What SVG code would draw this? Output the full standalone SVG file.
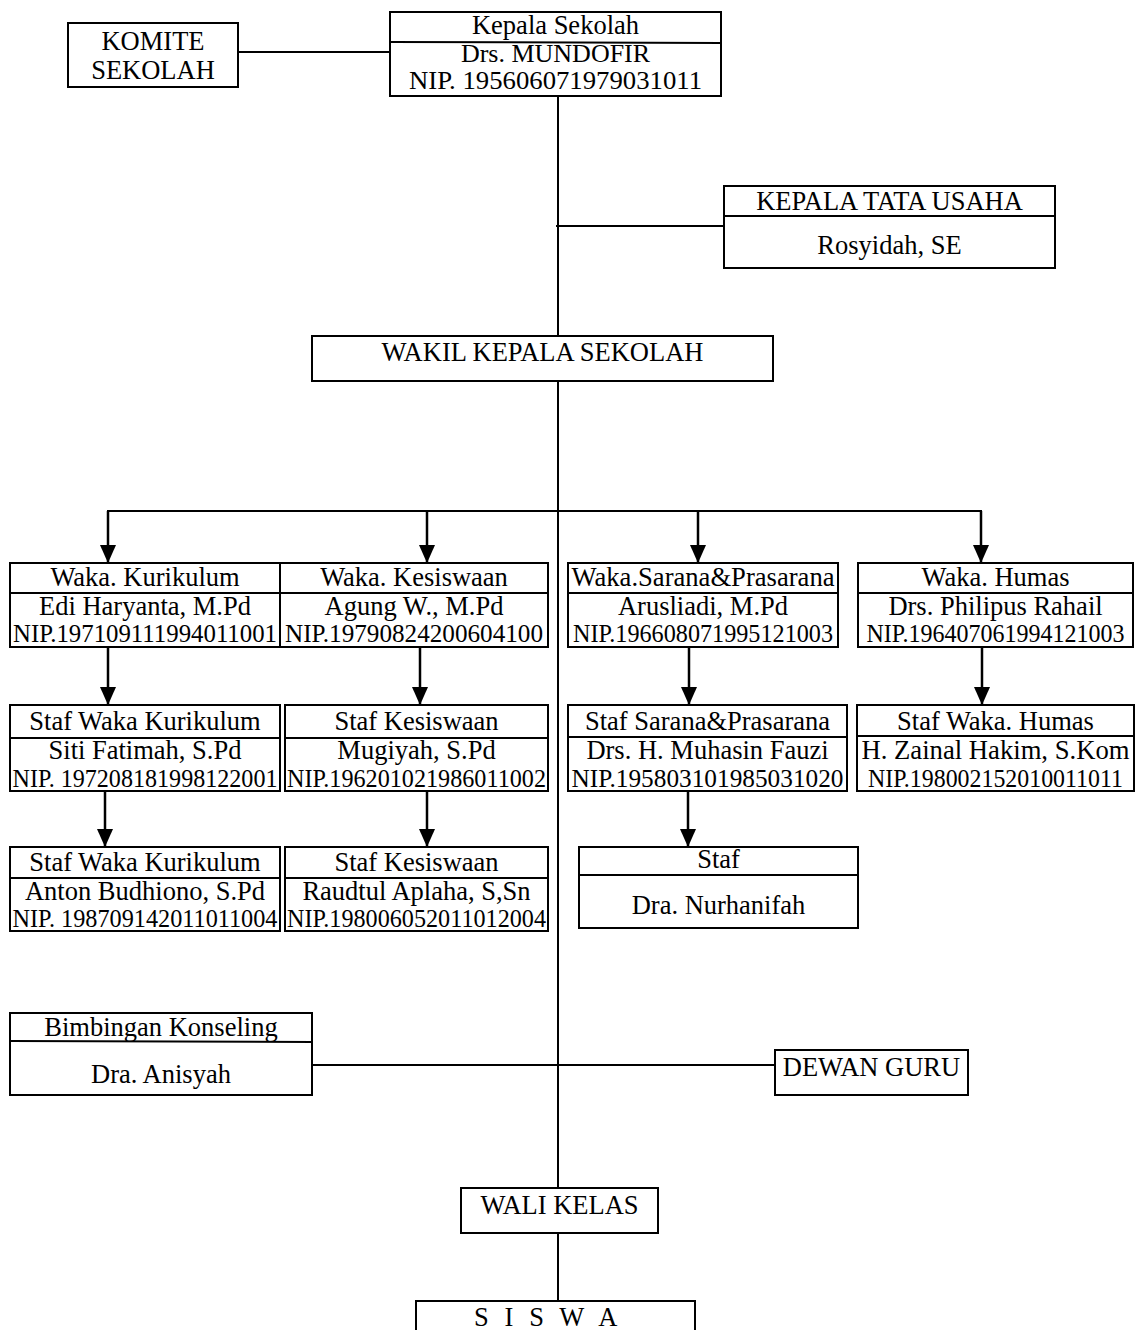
<svg xmlns="http://www.w3.org/2000/svg" width="1141" height="1330" viewBox="0 0 1141 1330">
<style>
.box{fill:#fff;stroke:#000;stroke-width:2}
.div{stroke:#000;stroke-width:2}
.t{font-family:"Liberation Serif","Times New Roman",serif;font-size:26.5px;text-anchor:middle;fill:#000}
.n{font-size:24.5px}
.c{stroke:#000;stroke-width:2;fill:none}
.a{stroke:#000;stroke-width:2.5;fill:none;marker-end:url(#ah)}
</style>
<defs>
<marker id="ah" markerUnits="userSpaceOnUse" markerWidth="18" markerHeight="16" refX="18" refY="8" orient="auto">
<path d="M0,0 L18,8 L0,16 z" fill="#000"/>
</marker>
</defs>
<rect width="1141" height="1330" fill="#fff"/>

<g id="connectors">
<line class="c" x1="238" y1="52" x2="390" y2="52"/>
<line class="c" x1="558" y1="96" x2="558" y2="336"/>
<line class="c" x1="556" y1="226" x2="726" y2="226"/>
<line class="c" x1="558" y1="381" x2="558" y2="1188"/>
<line class="c" x1="558" y1="1233" x2="558" y2="1301"/>
<line class="c" x1="107" y1="511" x2="982" y2="511"/>
<line class="a" x1="108" y1="511" x2="108" y2="563"/>
<line class="a" x1="427" y1="511" x2="427" y2="563"/>
<line class="a" x1="698" y1="511" x2="698" y2="563"/>
<line class="a" x1="981" y1="511" x2="981" y2="563"/>
<line class="a" x1="108" y1="648" x2="108" y2="705"/>
<line class="a" x1="420" y1="648" x2="420" y2="705"/>
<line class="a" x1="689" y1="648" x2="689" y2="705"/>
<line class="a" x1="982" y1="648" x2="982" y2="705"/>
<line class="a" x1="105" y1="792" x2="105" y2="847"/>
<line class="a" x1="427" y1="792" x2="427" y2="847"/>
<line class="a" x1="688" y1="792" x2="688" y2="847"/>
<line class="c" x1="312" y1="1065" x2="775" y2="1065"/>
</g>

<g id="komite">
<rect class="box" x="68" y="23" width="170" height="64"/>
<text class="t" x="153" y="50">KOMITE</text>
<text class="t" x="153" y="79">SEKOLAH</text>
</g>

<g id="kepala-sekolah">
<rect class="box" x="390" y="12" width="331" height="84"/>
<line class="div" x1="390" y1="42" x2="721" y2="43"/>
<text class="t" x="555.5" y="34">Kepala Sekolah</text>
<text class="t" x="555.5" y="62" style="font-size:26px">Drs. MUNDOFIR</text>
<text class="t n" x="555.5" y="89" textLength="293" lengthAdjust="spacingAndGlyphs">NIP. 195606071979031011</text>
</g>

<g id="kepala-tata-usaha">
<rect class="box" x="724" y="186" width="331" height="82"/>
<line class="div" x1="724" y1="216" x2="1055" y2="216"/>
<text class="t" x="889.5" y="210">KEPALA TATA USAHA</text>
<text class="t" x="889.5" y="254">Rosyidah, SE</text>
</g>

<g id="wakil-kepala">
<rect class="box" x="312" y="336" width="461" height="45"/>
<text class="t" x="542.5" y="361">WAKIL KEPALA SEKOLAH</text>
</g>

<g id="waka-kurikulum">
<rect class="box" x="10" y="563" width="270" height="84"/>
<line class="div" x1="10" y1="593" x2="280" y2="593"/>
<text class="t" x="145" y="586">Waka. Kurikulum</text>
<text class="t" x="145" y="615">Edi Haryanta, M.Pd</text>
<text class="t n" x="145" y="642" textLength="264" lengthAdjust="spacingAndGlyphs">NIP.197109111994011001</text>
</g>

<g id="waka-kesiswaan">
<rect class="box" x="280" y="563" width="268" height="84"/>
<line class="div" x1="280" y1="593" x2="548" y2="593"/>
<text class="t" x="414" y="586">Waka. Kesiswaan</text>
<text class="t" x="414" y="615">Agung W., M.Pd</text>
<text class="t n" x="414" y="642" textLength="258" lengthAdjust="spacingAndGlyphs">NIP.19790824200604100</text>
</g>

<g id="waka-sarana">
<rect class="box" x="568" y="563" width="270" height="84"/>
<line class="div" x1="568" y1="593" x2="838" y2="593"/>
<text class="t" x="703" y="586" textLength="263" lengthAdjust="spacingAndGlyphs">Waka.Sarana&amp;Prasarana</text>
<text class="t" x="703" y="615">Arusliadi, M.Pd</text>
<text class="t n" x="703" y="642" textLength="260" lengthAdjust="spacingAndGlyphs">NIP.196608071995121003</text>
</g>

<g id="waka-humas">
<rect class="box" x="858" y="563" width="275" height="84"/>
<line class="div" x1="858" y1="593" x2="1133" y2="593"/>
<text class="t" x="995.5" y="586">Waka. Humas</text>
<text class="t" x="995.5" y="615">Drs. Philipus Rahail</text>
<text class="t n" x="995.5" y="642" textLength="258" lengthAdjust="spacingAndGlyphs">NIP.196407061994121003</text>
</g>

<g id="staf-kurikulum-1">
<rect class="box" x="10" y="705" width="270" height="86"/>
<line class="div" x1="10" y1="738" x2="280" y2="738"/>
<text class="t" x="145" y="730">Staf Waka Kurikulum</text>
<text class="t" x="145" y="759">Siti Fatimah, S.Pd</text>
<text class="t n" x="145" y="787" textLength="265" lengthAdjust="spacingAndGlyphs">NIP. 197208181998122001</text>
</g>

<g id="staf-kesiswaan-1">
<rect class="box" x="285" y="705" width="263" height="86"/>
<line class="div" x1="285" y1="738" x2="548" y2="738"/>
<text class="t" x="416.5" y="730">Staf Kesiswaan</text>
<text class="t" x="416.5" y="759">Mugiyah, S.Pd</text>
<text class="t n" x="416.5" y="787" textLength="259" lengthAdjust="spacingAndGlyphs">NIP.196201021986011002</text>
</g>

<g id="staf-sarana">
<rect class="box" x="568" y="705" width="279" height="86"/>
<line class="div" x1="568" y1="737" x2="847" y2="737"/>
<text class="t" x="707.5" y="730">Staf Sarana&amp;Prasarana</text>
<text class="t" x="707.5" y="759">Drs. H. Muhasin Fauzi</text>
<text class="t n" x="707.5" y="787" textLength="272" lengthAdjust="spacingAndGlyphs">NIP.195803101985031020</text>
</g>

<g id="staf-humas">
<rect class="box" x="857" y="705" width="277" height="86"/>
<line class="div" x1="857" y1="736" x2="1134" y2="736"/>
<text class="t" x="995.5" y="730">Staf Waka. Humas</text>
<text class="t" x="995.5" y="759" textLength="268" lengthAdjust="spacingAndGlyphs">H. Zainal Hakim, S.Kom</text>
<text class="t n" x="995.5" y="787" textLength="255" lengthAdjust="spacingAndGlyphs">NIP.198002152010011011</text>
</g>

<g id="staf-kurikulum-2">
<rect class="box" x="10" y="847" width="270" height="84"/>
<line class="div" x1="10" y1="878" x2="280" y2="878"/>
<text class="t" x="145" y="871">Staf Waka Kurikulum</text>
<text class="t" x="145" y="900">Anton Budhiono, S.Pd</text>
<text class="t n" x="145" y="927" textLength="265" lengthAdjust="spacingAndGlyphs">NIP. 198709142011011004</text>
</g>

<g id="staf-kesiswaan-2">
<rect class="box" x="285" y="847" width="263" height="84"/>
<line class="div" x1="285" y1="878" x2="548" y2="878"/>
<text class="t" x="416.5" y="871">Staf Kesiswaan</text>
<text class="t" x="416.5" y="900">Raudtul Aplaha, S,Sn</text>
<text class="t n" x="416.5" y="927" textLength="259" lengthAdjust="spacingAndGlyphs">NIP.198006052011012004</text>
</g>

<g id="staf-sarana-2">
<rect class="box" x="579" y="847" width="279" height="81"/>
<line class="div" x1="579" y1="875" x2="858" y2="875"/>
<text class="t" x="718.5" y="868">Staf</text>
<text class="t" x="718.5" y="914">Dra. Nurhanifah</text>
</g>

<g id="bimbingan-konseling">
<rect class="box" x="10" y="1013" width="302" height="82"/>
<line class="div" x1="10" y1="1041" x2="312" y2="1042"/>
<text class="t" x="161" y="1036">Bimbingan Konseling</text>
<text class="t" x="161" y="1083">Dra. Anisyah</text>
</g>

<g id="dewan-guru">
<rect class="box" x="775" y="1050" width="193" height="45"/>
<text class="t" x="871.5" y="1076">DEWAN GURU</text>
</g>

<g id="wali-kelas">
<rect class="box" x="461" y="1188" width="197" height="45"/>
<text class="t" x="559.5" y="1214">WALI KELAS</text>
</g>

<g id="siswa">
<rect class="box" x="416" y="1301" width="279" height="40"/>
<text class="t" x="474" y="1326" style="text-anchor:start;letter-spacing:4.6px">S I S W A</text>
</g>
</svg>
